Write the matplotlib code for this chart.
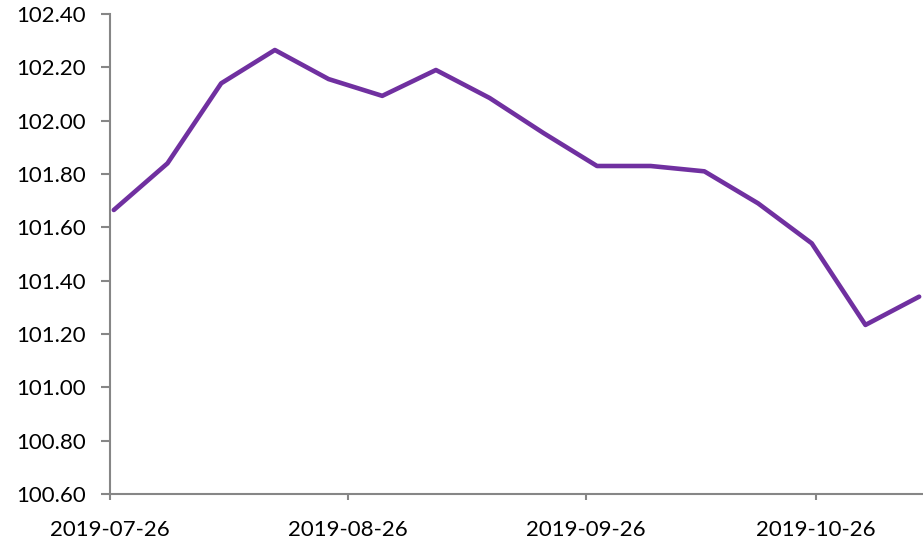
import matplotlib
matplotlib.use("Agg")
import matplotlib.pyplot as plt
import matplotlib.transforms as mtransforms
import datetime as dt

dates = ["2019-07-26", "2019-08-02", "2019-08-09", "2019-08-16", "2019-08-23",
         "2019-08-30", "2019-09-06", "2019-09-13", "2019-09-20", "2019-09-27",
         "2019-10-04", "2019-10-11", "2019-10-18", "2019-10-25", "2019-11-01",
         "2019-11-08"]
values = [101.665, 101.84, 102.14, 102.265, 102.156, 102.093, 102.19, 102.085,
          101.954, 101.83, 101.83, 101.81, 101.69, 101.54, 101.234, 101.34]
tick_dates = ["2019-07-26", "2019-08-26", "2019-09-26", "2019-10-26"]
y_ticks = [100.6, 100.8, 101.0, 101.2, 101.4, 101.6, 101.8, 102.0, 102.2, 102.4]

plt.rcParams['font.family'] = ['Lato', 'DejaVu Sans']

x = [dt.datetime.strptime(d, "%Y-%m-%d") for d in dates]
xt = [dt.datetime.strptime(d, "%Y-%m-%d") for d in tick_dates]

fig = plt.figure(figsize=(9.23, 5.44), dpi=100)
ax = fig.add_axes([110/923, 50/544, 813/923, 480/544])
# points drawn at the middle of each day, like a spreadsheet date axis
shift = mtransforms.ScaledTranslation(3.8/100, 0, fig.dpi_scale_trans)
ax.plot(x, values, color="#7030A0", linewidth=3.3, solid_joinstyle="round",
        solid_capstyle="round", clip_on=False, transform=ax.transData + shift)

start = xt[0]
ax.set_xlim(start, start + dt.timedelta(days=106))
ax.set_ylim(100.6, 102.4)
ax.set_xticks(xt)
ax.set_xticklabels(tick_dates)
ax.set_yticks(y_ticks)
ax.set_yticklabels([f"{v:.2f}" for v in y_ticks])

for s in ["top", "right"]:
    ax.spines[s].set_visible(False)
for s in ["left", "bottom"]:
    ax.spines[s].set_color("#868686")
    ax.spines[s].set_linewidth(1.5)
ax.tick_params(axis="y", direction="out", length=6.5, width=1.5, color="#868686",
               labelsize=16, pad=11, labelcolor="black")
ax.tick_params(axis="x", direction="out", length=4.5, width=1.5, color="#868686",
               labelsize=16, pad=14, labelcolor="black")

fig.savefig("out.png", dpi=100)
